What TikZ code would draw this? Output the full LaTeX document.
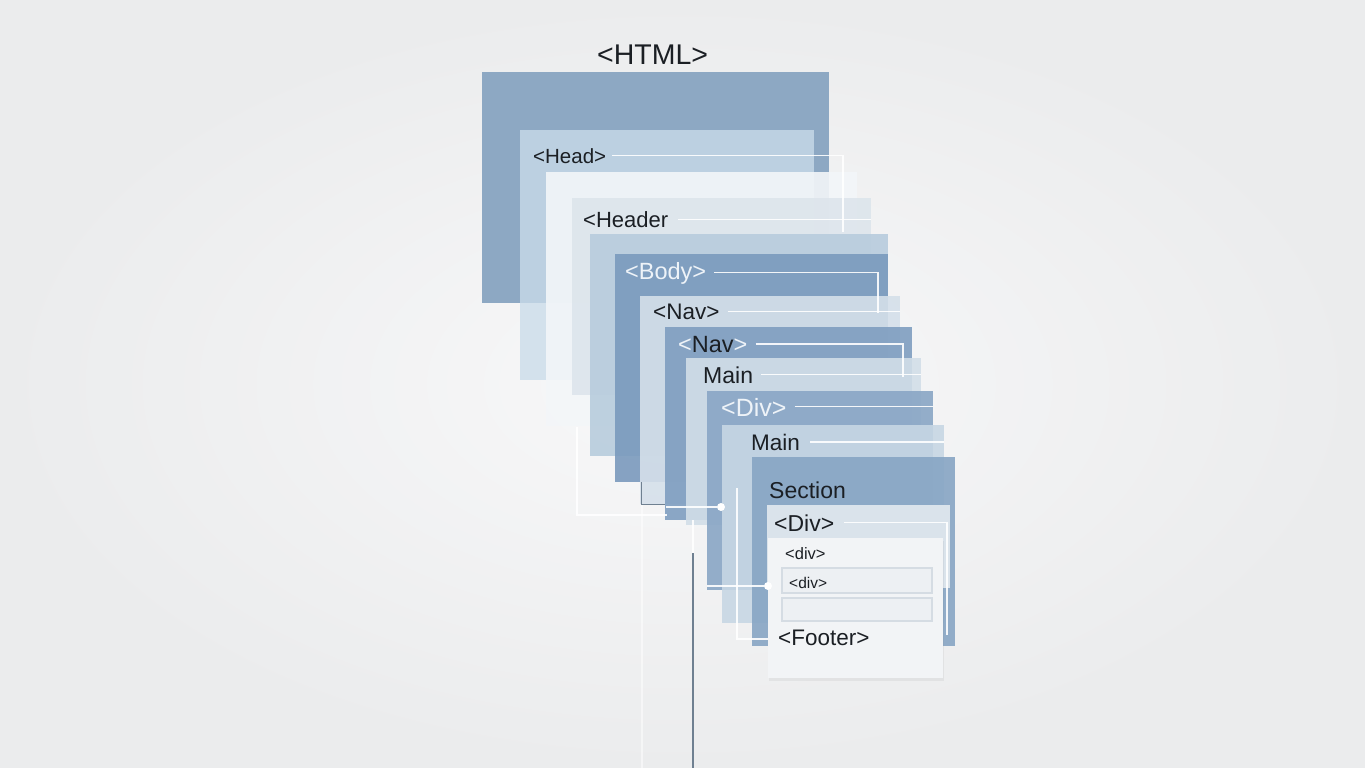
\documentclass[tikz,border=0pt]{standalone}
\usepackage{fontspec}
\setmainfont{Liberation Sans}
\usetikzlibrary{shadows}

\definecolor{bgin}{HTML}{F8F8F9}
\definecolor{bgout}{HTML}{EBECED}
\definecolor{ink}{HTML}{1B1F24}
\definecolor{pale}{HTML}{EEF3F8}
\definecolor{cHtml}{HTML}{8DA8C3}
\definecolor{cHead}{HTML}{CADCEA}
\definecolor{cWhite}{HTML}{F3F6F9}
\definecolor{cHeader}{HTML}{DDE5EC}
\definecolor{cMid}{HTML}{B8CCDD}
\definecolor{cBody}{HTML}{7A9ABD}
\definecolor{cNav}{HTML}{D5E0EA}
\definecolor{cNavB}{HTML}{7F9EC0}
\definecolor{cMain}{HTML}{D2DEE8}
\definecolor{cDiv}{HTML}{89A6C5}
\definecolor{cMainB}{HTML}{C7D7E4}
\definecolor{cSection}{HTML}{87A5C4}
\definecolor{cDivIn}{HTML}{DAE3EB}
\definecolor{cFoot}{HTML}{F2F4F6}
\definecolor{cRow}{HTML}{EDF0F3}
\definecolor{cRowLine}{HTML}{D5DCE3}
\definecolor{cStem}{HTML}{6F8091}

\newcommand{\fsz}[1]{\fontsize{#1}{#1}\selectfont}

\begin{document}
\begin{tikzpicture}[x=1pt,y=1pt,yscale=-1,
  tag/.style={anchor=base west,inner sep=0pt,text=ink},
  wire/.style={draw=white,line width=1.1pt,draw opacity=0.9},
  layer/.style={fill opacity=0.9},
  dot/.style={circle,fill=white,inner sep=0pt,minimum size=8pt}]

\useasboundingbox (0,0) rectangle (1365,768);
\shade [inner color=bgin, outer color=bgout] (0,0) rectangle (1365,768);

\fill [cHtml] (482,72) -- (829,72) -- (829,303) -- (482,303) -- cycle ;
\fill [cHead, fill opacity=0.78] (520,130) -- (814,130) -- (814,380) -- (520,380) -- cycle ;
\fill [cWhite, layer] (546,172) -- (857,172) -- (857,426) -- (546,426) -- cycle ;
\fill [cHeader, layer] (572,198) -- (871,198) -- (871,395) -- (572,395) -- cycle ;
\fill [cMid, layer] (590,234) -- (888,234) -- (888,456) -- (590,456) -- cycle ;
\fill [cBody, layer] (615,254) -- (888,254) -- (888,482) -- (615,482) -- cycle ;
\fill [cNav, layer] (640,296) -- (900,296) -- (900,504) -- (640,504) -- cycle ;
\fill [cNavB, layer] (665,327) -- (912,327) -- (912,520) -- (665,520) -- cycle ;
\fill [cMain, layer] (686,358) -- (921,358) -- (921,525) -- (686,525) -- cycle ;
\fill [cDiv, layer] (707,391) -- (933,391) -- (933,590) -- (707,590) -- cycle ;
\fill [cMainB, layer] (722,425) -- (944,425) -- (944,623) -- (722,623) -- cycle ;
\fill [cSection, layer] (752,457) -- (955,457) -- (955,646) -- (752,646) -- cycle ;
\fill [cDivIn] (767,505) -- (950,505) -- (950,588) -- (767,588) -- cycle ;
\fill [cFoot, drop shadow={opacity=0.1,shadow xshift=1pt,shadow yshift=-3pt}] (768,538) -- (943,538) -- (943,678) -- (768,678) -- cycle ;
\draw [cRowLine, fill=cRow, line width=2pt] (782,568) -- (932,568) -- (932,593) -- (782,593) -- cycle ;
\draw [cRowLine, fill=cRow, line width=2pt] (782,598) -- (932,598) -- (932,621) -- (782,621) -- cycle ;

\node [tag, font=\fsz{28.5}] (html) at (597,65) {<HTML>};
\node [tag, font=\fsz{20.5}] (head) at (533,163) {<Head>};
\node [tag, font=\fsz{22}] (header) at (583,227) {<Header};
\node [tag, font=\fsz{23.5}, text=pale] (body) at (625,279) {<Body>};
\node [tag, font=\fsz{22.5}] (nav) at (653,319) {<Nav>};
\node [tag, font=\fsz{23.5}] (navb) at (678,352) {\textcolor{pale}{<}Nav\textcolor{pale}{>}};
\node [tag, font=\fsz{23}] (main) at (703,383) {Main};
\node [tag, font=\fsz{25}, text=pale] (div) at (721,416) {<Div>};
\node [tag, font=\fsz{22.5}] (mainb) at (751,450) {Main};
\node [tag, font=\fsz{23}] (section) at (769,498) {Section};
\node [tag, font=\fsz{23}] (divin) at (774,531) {<Div>};
\node [tag, font=\fsz{16.5}] (divA) at (785,559) {<div>};
\node [tag, font=\fsz{15.5}] (divB) at (789,588) {<div>};
\node [tag, font=\fsz{22.5}] (footer) at (778,645) {<Footer>};

\coordinate (headR) at (843,232);
\coordinate (headerR) at (871,219);
\coordinate (bodyR) at (878,313);
\coordinate (navR) at (900,313);
\coordinate (navbR) at (903,377);
\coordinate (mainR) at (921,377);
\coordinate (divR) at (933,408);
\coordinate (mainbR) at (944,444);
\coordinate (divinR) at (947,635);

\draw [wire] ([xshift=6pt]head.east) -| (headR) ;
\draw [wire] ([xshift=10pt]header.east) -- (header.east -| headerR) ;
\draw [wire] ([xshift=8pt]body.east) -| (bodyR) ;
\draw [wire] ([xshift=8pt]nav.east) -- (nav.east -| navR) ;
\draw [wire] ([xshift=8pt]navb.east) -| (navbR) ;
\draw [wire] ([xshift=8pt]main.east) -- (main.east -| mainR) ;
\draw [wire] ([xshift=8pt]div.east) -- (div.east -| divR) ;
\draw [wire] ([xshift=10pt]mainb.east) -- (mainb.east -| mainbR) ;
\draw [wire] ([xshift=10pt]divin.east) -| (divinR) ;

\coordinate (stemA) at (577,427);
\coordinate (stemAend) at (667,515);
\coordinate (boxA) at (641,482);
\coordinate (boxAend) at (665,504);
\coordinate (navL) at (666,507);
\coordinate (divL) at (707,586);
\coordinate (stemB) at (737,488);
\coordinate (stemBend) at (768,639);
\coordinate (stemC) at (693,520);
\coordinate (stemCend) at (693,586);
\coordinate (stemD) at (693,553);
\coordinate (stemDend) at (693,768);
\coordinate (stemE) at (642,505);
\coordinate (stemEend) at (642,768);

\node [dot] (dotA) at (721,507) {};
\node [dot] (dotB) at (768,586) {};

\draw [wire] (stemA) |- (stemAend) ;
\draw [cStem, line width=0.8pt] (boxA) |- (boxAend) ;
\draw [wire] (navL) -- (dotA) ;
\draw [wire] (divL) -- (dotB) ;
\draw [wire] (stemB) |- (stemBend) ;
\draw [wire] (stemC) -- (stemCend) ;
\draw [wire, draw opacity=0.5] (stemE) -- (stemEend) ;
\draw [cStem, line width=1.2pt] (stemD) -- (stemDend) ;
\end{tikzpicture}
\end{document}
